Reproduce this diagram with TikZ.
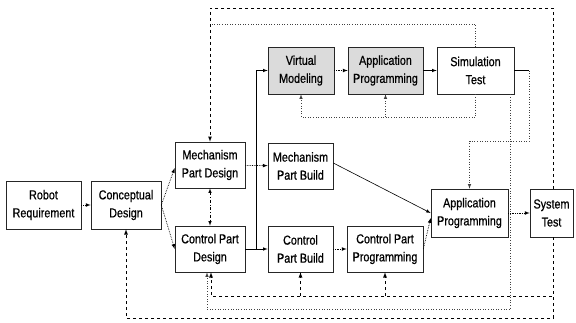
\documentclass[tikz,border=0pt]{standalone}
\usepackage{fontspec}
\newfontfamily\narrowsf{Liberation Sans}[FakeStretch=0.83, FakeBold=0.7]
\tikzset{>=latex}
\tikzset{
  box/.style={draw=black!85, line width=.6pt, align=center, inner sep=1pt,
    minimum width=70pt, minimum height=46pt,
    font=\narrowsf\fontsize{13}{18}\selectfont},
  shaded/.style={fill=black!14},
  flow/.style={->, densely dotted, line width=.7pt},
  link/.style={->, line width=.6pt},
  simfb/.style={->, dotted, black!75, line width=.6pt},
  fbk/.style={->, dashed, line width=.8pt}
}

\begin{document}
\begin{tikzpicture}[x=1pt, y=-1pt]
    \useasboundingbox (0,0) rectangle (576,322);
    \node[box, minimum width=75pt, minimum height=48pt] (rr) at (43.5,205) {Robot\\Requirement};
    \node[box, minimum height=48pt] (cd) at (126,205) {Conceptual\\Design};
    \node[box] (mpd) at (210,165) {Mechanism\\Part Design};
    \node[box] (cpd) at (210,249) {Control Part\\Design};
    \node[box, minimum width=65pt] (mpb) at (300.5,166) {Mechanism\\Part Build};
    \node[box, minimum width=65pt] (cpb) at (300.5,249) {Control\\Part Build};
    \node[box, minimum width=76pt] (cpp) at (385,249) {Control Part\\Programming};
    \node[box, shaded, minimum width=66pt, minimum height=47pt] (vm) at (301,70.5) {Virtual\\Modeling};
    \node[box, shaded, minimum width=75pt, minimum height=47pt] (ap1) at (385.5,70.5) {Application\\Programming};
    \node[box, minimum width=77pt, minimum height=47pt] (simt) at (475.5,70.5) {Simulation\\Test};
    \node[box, minimum width=77pt, minimum height=48pt] (ap2) at (469.5,213) {Application\\Programming};
    \node[box, minimum width=43pt, minimum height=48pt] (syst) at (551.5,213) {System\\Test};

    \coordinate (lvlt1) at (0,8);
    \coordinate (lvlt2) at (0,24);
    \coordinate (lvlloop) at (0,117);
    \coordinate (lvlmid) at (0,141);
    \coordinate (lvlb1) at (0,296);
    \coordinate (lvlb2) at (0,309);
    \coordinate (lvlb3) at (0,318);
    \coordinate (split) at (256,249);

    \draw[flow] (rr) -- (cd);
    \draw[flow] (cd.east) -- ([yshift=-3pt]mpd.west);
    \draw[flow] (cd.east) -- (cpd.west);
    \draw[<->, dash dot, line width=.6pt] (mpd) -- (cpd);
    \draw[flow] (mpd) -- (mpb);
    \draw[link] (cpd) -- (cpb);
    \draw[link] (split) |- (vm);
    \draw[flow] (cpb) -- (cpp);
    \draw[link] ([yshift=3pt]mpb.east) -- (ap2.west);
    \draw[flow] (cpp.east) -- ([yshift=-5pt]ap2.west);
    \draw[flow] (ap2) -- (syst);
    \draw[flow] (vm) -- (ap1);
    \draw[link] (ap1) -- (simt);

    \draw[line width=.6pt] (simt.east) -- ++(15,0) coordinate (simout);
    \draw[simfb] (simout) |- (ap2.north |- lvlmid) -- (ap2.north);
    \draw[simfb] (simt.south) |- (vm.south |- lvlloop) -- (vm.south);
    \draw[simfb] (ap1.south |- lvlloop) -- (ap1.south);
    \draw[simfb] ([xshift=35pt]simt.south) |- ([xshift=-3pt]cpd.south |- lvlb2) -- ([xshift=-3pt]cpd.south);
    \draw[simfb, -] (simt.north) |- ([xshift=2pt]mpd.north |- lvlt2);

    \draw[fbk] ([xshift=2pt]syst.south) |- ([xshift=1pt]cpd.south |- lvlb1) -- ([xshift=1pt]cpd.south);
    \draw[fbk] (cpb.south |- lvlb1) -- (cpb.south);
    \draw[fbk] (cpp.south |- lvlb1) -- (cpp.south);
    \draw[fbk] ([xshift=2pt]syst.south) |- (cd.south |- lvlb3) -- (cd.south);
    \draw[fbk] ([xshift=2pt]syst.north) |- (mpd.north |- lvlt1) -- (mpd.north);
\end{tikzpicture}
\end{document}
